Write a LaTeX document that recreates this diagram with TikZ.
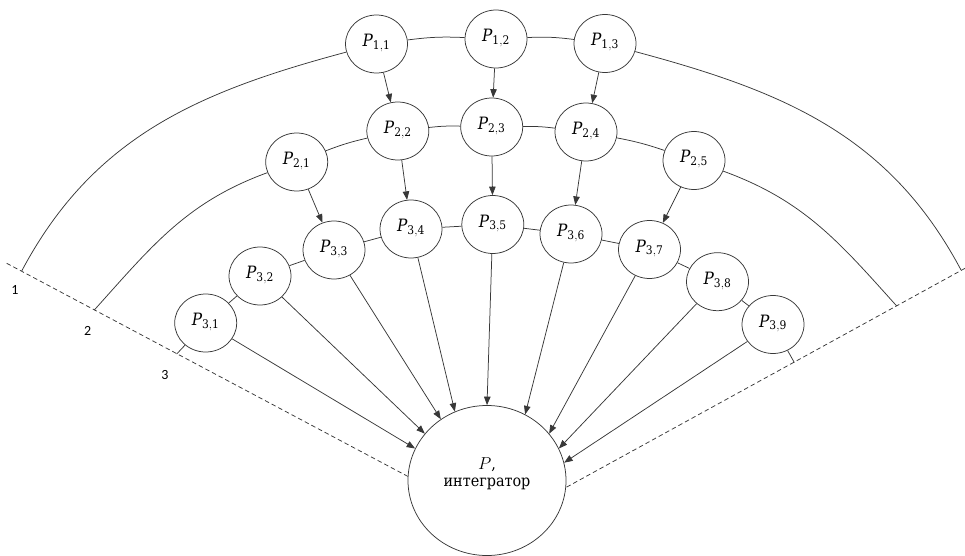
\documentclass[tikz,border=0pt]{standalone}
\usepackage{fontspec}
\IfFontExistsTF{DejaVu Serif Condensed}
  {\setmainfont{DejaVu Serif Condensed}}
  {\setmainfont{DejaVu Serif}}
\newfontfamily\lblfont{Carlito}
\usetikzlibrary{shapes.geometric,arrows.meta}

% label of a processor node: italic P with an upright index
\newcommand\Pidx[1]{$\mathit{P}_{\mathrm{#1}}$}

\begin{document}
\begin{tikzpicture}[x=1pt,y=1pt,
  ink/.style={draw=black!78, line width=0.75pt},
  pnode/.style={ellipse, ink, fill=white, minimum width=62pt, minimum height=58pt,
                inner sep=0pt, text height=12pt, text depth=7pt, font=\fontsize{17}{18}\selectfont},
  tip/.style={ink, -{Triangle[length=8.5pt,width=6.5pt]}},
  bound/.style={ink, dash pattern=on 4.5pt off 3pt},
  layerno/.style={font=\lblfont\fontsize{14}{14}\selectfont, inner sep=0pt},
]
\useasboundingbox (0,0) rectangle (965,-556);

% integrator
\node[ellipse, ink, minimum width=158pt, minimum height=150pt, inner sep=0pt] (P) at (487,-480.5) {};
\node[font=\fontsize{16}{17.5}\selectfont, align=center, inner sep=0pt] (Ptext) at (487,-474) {$P$,\\интегратор};

% level 1
\node[pnode] (P11) at (376.5,-44)  {\Pidx{1,1}};
\node[pnode] (P12) at (496,-39)    {\Pidx{1,2}};
\node[pnode] (P13) at (605,-43.5)  {\Pidx{1,3}};
% level 2
\node[pnode] (P21) at (296.7,-162) {\Pidx{2,1}};
\node[pnode] (P22) at (397.8,-131) {\Pidx{2,2}};
\node[pnode] (P23) at (491.7,-127) {\Pidx{2,3}};
\node[pnode] (P24) at (586,-132)   {\Pidx{2,4}};
\node[pnode] (P25) at (694,-160.5) {\Pidx{2,5}};
% level 3
\node[pnode] (P31) at (205.7,-323) {\Pidx{3,1}};
\node[pnode] (P32) at (260,-276)   {\Pidx{3,2}};
\node[pnode] (P33) at (334,-250)   {\Pidx{3,3}};
\node[pnode] (P34) at (411,-229)   {\Pidx{3,4}};
\node[pnode] (P35) at (492.8,-224.5) {\Pidx{3,5}};
\node[pnode] (P36) at (571,-234)   {\Pidx{3,6}};
\node[pnode] (P37) at (649.5,-249.5) {\Pidx{3,7}};
\node[pnode] (P38) at (717.5,-281.7) {\Pidx{3,8}};
\node[pnode] (P39) at (773,-324.5) {\Pidx{3,9}};

% ends of the level arcs on the sector boundaries
\coordinate (e1l) at (21.7,-271);
\coordinate (e1r) at (961,-270);
\coordinate (e2l) at (94.3,-310);
\coordinate (e2r) at (896.7,-306);
\coordinate (e3l) at (176.7,-354);
\coordinate (e3r) at (794.3,-362.5);
\coordinate (dl) at (6.7,-263.3);
\coordinate (dr) at (965,-268.3);

% sector boundaries
\draw[bound] (dl) -- (P.177);
\draw[bound] (dr) -- (P.-5.7);

% level numbers
\node[layerno] (n1) at (15,-290) {1};
\node[layerno] (n2) at (87.7,-330.7) {2};
\node[layerno] (n3) at (165,-375) {3};

% level 1 arc
\draw[ink] (e1l) to[out=62,in=195] (P11);
\draw[ink] (P11) to[bend left=5] (P12);
\draw[ink] (P12) to[bend left=5] (P13);
\draw[ink] (P13) to[out=-15,in=118] (e1r);

% level 2 arc
\draw[ink] (e2l) to[out=48,in=200] (P21);
\draw[ink] (P21) to[bend left=4] (P22);
\draw[ink] (P22) to[bend left=4] (P23);
\draw[ink] (P23) to[bend left=4] (P24);
\draw[ink] (P24) to[bend left=4] (P25);
\draw[ink] (P25) to[out=-20,in=132] (e2r);

% level 3 chain
\draw[ink] (e3l) -- (P31);
\draw[ink] (P31) -- (P32);
\draw[ink] (P32) -- (P33);
\draw[ink] (P33) -- (P34);
\draw[ink] (P34) -- (P35);
\draw[ink] (P35) -- (P36);
\draw[ink] (P36) -- (P37);
\draw[ink] (P37) -- (P38);
\draw[ink] (P38) -- (P39);
\draw[ink] (P39) -- (e3r);

% level 1 -> level 2
\draw[tip] (P11) -- (P22);
\draw[tip] (P12) -- (P23);
\draw[tip] (P13) -- (P24);

% level 2 -> level 3
\draw[tip] (P21) -- (P33);
\draw[tip] (P22) -- (P34);
\draw[tip] (P23) -- (P35);
\draw[tip] (P24) -- (P36);
\draw[tip] (P25) -- (P37);

% level 3 -> integrator
\draw[tip] (P31) -- (P.156.8);
\draw[tip] (P32) -- (P.143);
\draw[tip] (P33) -- (P.127.5);
\draw[tip] (P34) -- (P.115.5);
\draw[tip] (P35) -- (P.90);
\draw[tip] (P36) -- (P.60.5);
\draw[tip] (P37) -- (P.37.6);
\draw[tip] (P38) -- (P.24.8);
\draw[tip] (P39) -- (P.13);
\end{tikzpicture}
\end{document}
